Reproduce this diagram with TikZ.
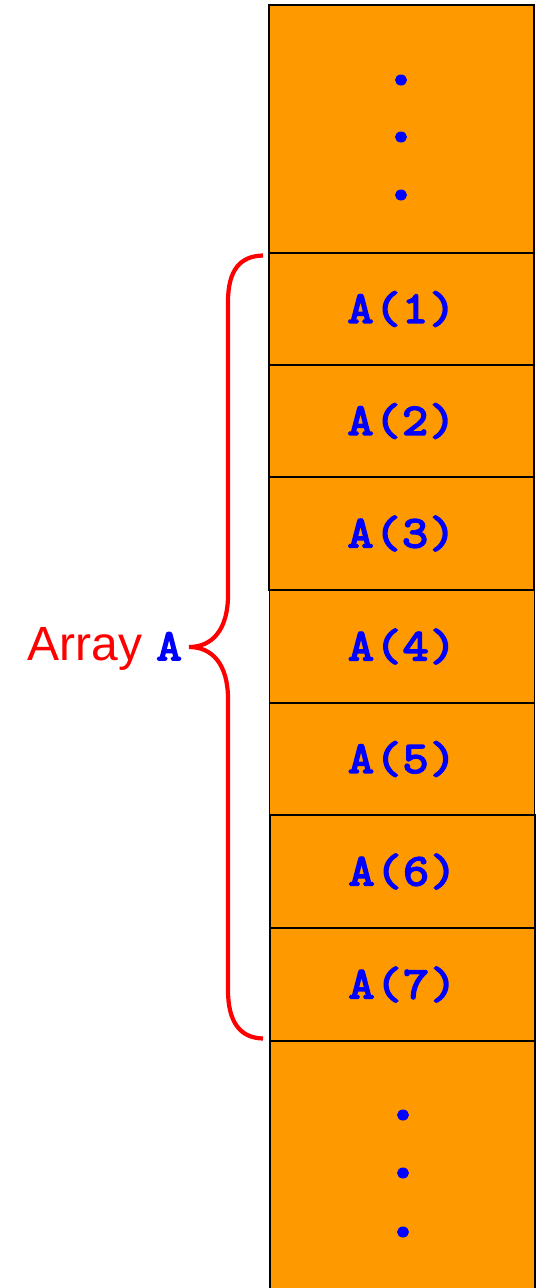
\documentclass[tikz,border=0pt]{standalone}
\usepackage{fontspec}
\usetikzlibrary{shapes.geometric}
\setmainfont{Liberation Sans}
\newfontfamily\courfam{Latin Modern Mono}[FakeBold=4,FakeStretch=1.12,LetterSpace=3]
\definecolor{cellorange}{RGB}{255,153,0}
\definecolor{lblue}{RGB}{0,0,255}
\definecolor{lred}{RGB}{255,0,0}
\newcommand\cellfont{\courfam\fontsize{45}{45}\selectfont}
\begin{document}
\begin{tikzpicture}[x=1pt,y=-1pt,
  cellbox/.style={draw=black,line width=1.6pt,fill=cellorange,rectangle,minimum width=265pt,inner sep=0pt,
    font=\cellfont,text=lblue},
  dotmark/.style={fill=lblue,draw=none,ellipse,minimum width=12pt,minimum height=11pt,inner sep=0pt},
  bracepath/.style={draw=lred,line width=4.2pt}]
\useasboundingbox (0,0) rectangle (540,1288);
\clip (0,0) rectangle (540,1288);
% top cell
\node[cellbox,minimum height=248pt] (top) at (401.5,129) {};
\node[dotmark] (t1) at (401,80) {};
\node[dotmark] (t2) at (401,137) {};
\node[dotmark] (t3) at (401,195) {};
% array cells
\node[cellbox,minimum height=112pt] (c1) at (401.5,309) {A(1)};
\node[cellbox,minimum height=112pt] (c2) at (401.5,421) {A(2)};
\node[cellbox,minimum height=113pt] (c3) at (401.5,533.5) {A(3)};
\node[cellbox,minimum height=113pt] (c4) at (402,646.5) {A(4)};
\node[cellbox,minimum height=112pt] (c5) at (402,759) {A(5)};
\node[cellbox,minimum height=113pt] (c6) at (402.5,871.5) {A(6)};
\node[cellbox,minimum height=113pt] (c7) at (402.5,984.5) {A(7)};
% bottom cell
\node[cellbox,minimum height=260pt] (bot) at (402.5,1171) {};
\node[dotmark] (b1) at (403,1115) {};
\node[dotmark] (b2) at (403,1173) {};
\node[dotmark] (b3) at (403,1232) {};
% brace
\coordinate (btop) at (263,255.5);
\coordinate (bmid) at (189,647);
\coordinate (bbot) at (263,1038.5);
\draw[bracepath] (btop) .. controls (240,256) and (228,270) .. (228,302)
  -- (228,595) .. controls (228,630) and (212,647) .. (bmid)
  .. controls (212,647) and (228,664) .. (228,699)
  -- (228,990) .. controls (228,1022) and (240,1038) .. (bbot);
% label
\node[anchor=base east,inner sep=0pt] (lbl) at (182,660)
  {\fontsize{48}{48}\selectfont\color{lred}Array\hspace{0.3em}{\color{lblue}\courfam\fontsize{44}{44}\selectfont A}};
\end{tikzpicture}
\end{document}
